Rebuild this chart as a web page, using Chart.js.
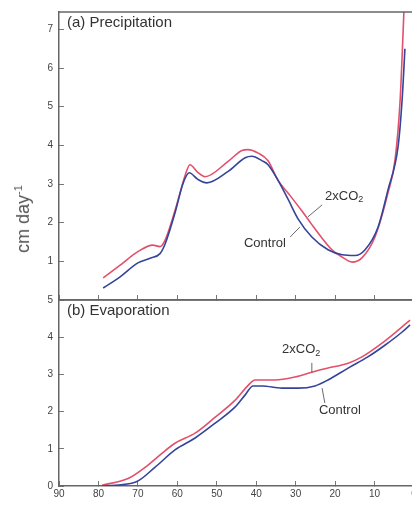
<!DOCTYPE html>
<html>
<head>
<meta charset="utf-8">
<script src="https://cdn.jsdelivr.net/npm/chart.js@4.4.1/dist/chart.umd.min.js"></script>
<style>
  html, body { margin: 0; padding: 0; background: #fff; overflow: hidden; width: 412px; height: 505px; }
  #top { position: absolute; left: 0; top: 0; }
  #bottom { position: absolute; left: 0; top: 290px; }
  #ylab {
    position: absolute; left: 23px; top: 219px;
    transform: translate(-50%, -50%) rotate(-90deg);
    font: 18px "Liberation Sans", Arial, sans-serif; color: #555; white-space: nowrap;
  }
  #ylab sup { font-size: 11px; }
</style>
</head>
<body>
<canvas id="top" width="430" height="302"></canvas>
<canvas id="bottom" width="430" height="215"></canvas>
<div id="ylab">cm day<sup>-1</sup></div>
<script>
// latitude (deg N) and values, cm/day
const precipLatControl = [78.8, 74.5, 70.0, 66.9, 64.4, 63.1, 60.6, 58.6, 57.0, 54.8, 52.5, 47.2, 42.8, 41.1, 38.5, 37.0, 34.5, 31.9, 29.4, 25.9, 21.8, 18.2, 15.0, 12.4, 9.1, 6.6, 4.0, 3.0, 2.3];
const precipControl    = [0.31, 0.6, 0.96, 1.08, 1.2, 1.45, 2.25, 3.0, 3.29, 3.12, 3.03, 3.32, 3.68, 3.72, 3.6, 3.5, 3.1, 2.6, 2.1, 1.63, 1.3, 1.17, 1.15, 1.3, 1.89, 2.85, 4.0, 5.2, 6.5];

const precipLat2xCO2 = [78.8, 74.5, 70.0, 66.2, 64.4, 63.1, 59.8, 58.1, 56.8, 54.8, 53.0, 47.2, 43.6, 42.1, 39.5, 37.0, 34.5, 31.4, 28.4, 25.9, 23.3, 20.8, 18.2, 15.7, 13.2, 9.9, 6.6, 4.8, 3.5, 2.5];
const precip2xCO2    = [0.57, 0.9, 1.25, 1.42, 1.38, 1.55, 2.59, 3.2, 3.5, 3.3, 3.19, 3.58, 3.87, 3.89, 3.8, 3.6, 3.1, 2.7, 2.3, 1.95, 1.6, 1.3, 1.11, 0.98, 1.09, 1.63, 2.77, 3.63, 5.2, 7.6];

const evapLatControl = [79.1, 70.7, 65.7, 60.6, 55.5, 50.4, 45.4, 42.8, 40.8, 38.5, 33.5, 29.4, 25.1, 21.8, 16.7, 11.7, 7.3, 3.0, 1.0];
const evapControl    = [0.0, 0.1, 0.5, 0.97, 1.29, 1.69, 2.12, 2.45, 2.69, 2.69, 2.63, 2.63, 2.69, 2.85, 3.17, 3.47, 3.79, 4.14, 4.33];

const evapLat2xCO2 = [79.1, 72.5, 68.2, 63.9, 60.6, 55.5, 50.4, 45.4, 42.1, 40.3, 35.2, 30.2, 25.9, 21.8, 16.7, 13.2, 8.1, 4.0, 1.0];
const evap2xCO2    = [0.02, 0.2, 0.5, 0.88, 1.15, 1.42, 1.85, 2.3, 2.7, 2.85, 2.85, 2.93, 3.06, 3.17, 3.3, 3.47, 3.84, 4.19, 4.46];

const latTicks = [90, 80, 70, 60, 50, 40, 30, 20, 10, 0];

const BLUE = '#34449a';
const RED = '#e2506b';
const AXIS = '#666';
const FONT = '"Liberation Sans", Arial, sans-serif';

function pts(xs, ys) {
  return xs.map((x, i) => ({ x: x, y: ys[i] }));
}

function line(label, data, color) {
  return {
    label: label, data: data, borderColor: color, borderWidth: 1.6,
    pointRadius: 0, fill: false, cubicInterpolationMode: 'monotone'
  };
}

// frame top edge, panel title and the two curve labels with their pointers
const panelText = {
  id: 'panelText',
  afterDraw(chart, args, opts) {
    const { ctx, chartArea: a, scales } = chart;
    const x = scales.x, y = scales.y;
    ctx.save();
    ctx.strokeStyle = AXIS;
    ctx.lineWidth = 1.5;
    ctx.beginPath();
    ctx.moveTo(a.left, a.top);
    ctx.lineTo(a.right, a.top);
    ctx.stroke();

    ctx.fillStyle = '#333';
    ctx.font = '15px ' + FONT;
    ctx.textBaseline = 'top';
    ctx.textAlign = 'left';
    ctx.fillText(opts.title, a.left + 8, a.top + 3);

    ctx.font = '13px ' + FONT;
    ctx.textBaseline = 'middle';
    for (const n of opts.notes) {
      const cx = x.getPixelForValue(n.at[0]);
      const cy = y.getPixelForValue(n.at[1]);
      const w = ctx.measureText(n.text).width;
      let sw = 0;
      if (n.sub) {
        ctx.font = '9px ' + FONT;
        sw = ctx.measureText(n.sub).width;
        ctx.font = '13px ' + FONT;
      }
      const x0 = cx - (w + sw) / 2;
      ctx.fillText(n.text, x0, cy);
      if (n.sub) {
        ctx.font = '9px ' + FONT;
        ctx.fillText(n.sub, x0 + w, cy + 4);
        ctx.font = '13px ' + FONT;
      }
      ctx.strokeStyle = '#444';
      ctx.lineWidth = 0.8;
      ctx.beginPath();
      ctx.moveTo(x.getPixelForValue(n.from[0]), y.getPixelForValue(n.from[1]));
      ctx.lineTo(x.getPixelForValue(n.to[0]), y.getPixelForValue(n.to[1]));
      ctx.stroke();
    }
    ctx.restore();
  }
};

function xScale(showLabels, height) {
  return {
    type: 'linear', min: 0, max: 90, reverse: true,
    border: { color: AXIS, width: 1.5 },
    grid: { drawOnChartArea: false, tickLength: -5, color: '#777' },
    ticks: {
      display: showLabels, stepSize: 10, autoSkip: false, maxRotation: 0,
      padding: 7, color: '#444', font: { family: FONT, size: 10 }
    },
    afterBuildTicks: s => { s.ticks = latTicks.map(v => ({ value: v })); },
    afterFit: s => {
      s.height = height;
      s.paddingLeft = 0;
      s.paddingRight = 0;
    }
  };
}

function yScale(max, hideZero) {
  return {
    min: 0, max: max,
    border: { color: AXIS, width: 1.5 },
    grid: { drawOnChartArea: false, tickLength: -5, color: '#777' },
    ticks: {
      stepSize: 1, includeBounds: false, padding: 11, color: '#444',
      font: { family: FONT, size: 10 },
      callback: v => (hideZero && v === 0) ? '' : v
    },
    afterFit: s => {
      s.width = 59;
      s.paddingTop = 0;
      s.paddingBottom = 0;
    }
  };
}

new Chart(document.getElementById('top'), {
  type: 'line',
  data: {
    datasets: [
      line('Control', pts(precipLatControl, precipControl), BLUE),
      line('2xCO2', pts(precipLat2xCO2, precip2xCO2), RED)
    ]
  },
  options: {
    responsive: false, animation: false,
    layout: { padding: { top: 12, right: 16, bottom: 2, left: 0 } },
    scales: { x: xScale(false, 0), y: yScale(7.45, true) },
    plugins: {
      legend: { display: false }, tooltip: { enabled: false },
      panelText: {
        title: '(a) Precipitation',
        notes: [
          { text: '2xCO', sub: '2', at: [17.7, 2.69], from: [23.3, 2.46], to: [26.9, 2.15] },
          { text: 'Control', at: [37.8, 1.47], from: [31.4, 1.63], to: [28.9, 1.89] }
        ]
      }
    }
  },
  plugins: [panelText]
});

new Chart(document.getElementById('bottom'), {
  type: 'line',
  data: {
    datasets: [
      line('Control', pts(evapLatControl, evapControl), BLUE),
      line('2xCO2', pts(evapLat2xCO2, evap2xCO2), RED)
    ]
  },
  options: {
    responsive: false, animation: false,
    layout: { padding: { top: 10, right: 16, bottom: 0, left: 0 } },
    scales: { x: xScale(true, 19), y: yScale(5, false) },
    plugins: {
      legend: { display: false }, tooltip: { enabled: false },
      panelText: {
        title: '(b) Evaporation',
        notes: [
          { text: '2xCO', sub: '2', at: [28.6, 3.66], from: [25.9, 3.31], to: [25.9, 3.06] },
          { text: 'Control', at: [18.8, 2.02], from: [23.3, 2.63], to: [22.6, 2.23] }
        ]
      }
    }
  },
  plugins: [panelText]
});
</script>
</body>
</html>
